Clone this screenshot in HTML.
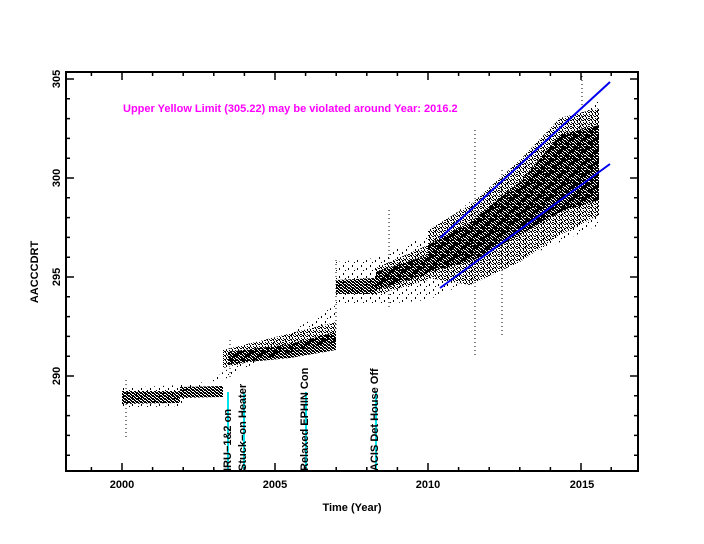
<!DOCTYPE html>
<html><head><meta charset="utf-8"><style>
html,body{margin:0;padding:0;background:#fff;}
svg{display:block;font-family:"Liberation Sans",sans-serif;}
</style></head><body>
<svg width="704" height="544" viewBox="0 0 704 544" xmlns="http://www.w3.org/2000/svg">
<defs>
<pattern id="d" width="4" height="3" patternUnits="userSpaceOnUse">
<rect x="0" y="0" width="3" height="1" fill="#000"/><rect x="2" y="1" width="2" height="1" fill="#000"/><rect x="0" y="2" width="2" height="1" fill="#000"/><rect x="3" y="2" width="1" height="1" fill="#000"/>
</pattern>
<pattern id="m" width="6" height="4" patternUnits="userSpaceOnUse">
<rect x="0" y="0" width="2" height="1" fill="#000"/><rect x="4" y="1" width="1" height="2" fill="#000"/><rect x="2" y="3" width="2" height="1" fill="#000"/><rect x="5" y="3" width="1" height="1" fill="#000"/><rect x="3" y="0" width="1" height="1" fill="#000"/><rect x="1" y="2" width="1" height="1" fill="#000"/>
</pattern>
<pattern id="s" width="9" height="8" patternUnits="userSpaceOnUse">
<rect x="1" y="1" width="1" height="2" fill="#000"/><rect x="6" y="4" width="1" height="2" fill="#000"/><rect x="3" y="6" width="1" height="1" fill="#000"/>
</pattern>
</defs>
<rect width="704" height="544" fill="#fff"/>
<polygon points="122,388 180,385 223,380 336,320 336,262 376,258 428,235 599,100 599,225 428,300 376,305 336,305 223,372 180,406 122,408" fill="url(#s)"/>
<polygon points="428,230 470,205 520,160 560,118 599,108 599,215 560,235 520,262 470,285 428,278" fill="url(#m)"/>
<polygon points="376,268 428,245 428,280 376,295" fill="url(#m)"/>
<polygon points="223,350 336,322 336,342 223,368" fill="url(#m)"/>
<polygon points="122,391 180,391 180,403 122,404" fill="url(#d)"/>
<polygon points="180,387 223,386 223,397 180,398" fill="url(#d)"/>
<polygon points="228,352 290,344 336,332 336,350 290,358 228,364" fill="url(#d)"/>
<polygon points="336,280 376,278 376,294 336,294" fill="url(#d)"/>
<polygon points="376,272 428,255 428,274 376,290" fill="url(#d)"/>
<polygon points="428,245 470,222 520,182 560,135 599,125 599,200 560,212 520,235 470,262 428,272" fill="url(#d)"/>
<g stroke="#000" stroke-width="1" stroke-dasharray="1,3">
<line x1="126" y1="380" x2="126" y2="438"/>
<line x1="230" y1="340" x2="230" y2="380"/>
<line x1="336" y1="260" x2="336" y2="330"/>
<line x1="389" y1="210" x2="389" y2="310"/>
<line x1="475" y1="130" x2="475" y2="355"/>
<line x1="502" y1="170" x2="502" y2="335"/>
<line x1="582" y1="72" x2="582" y2="150"/>
<line x1="595" y1="140" x2="595" y2="215"/>
</g>
<g stroke="#00e5ee" stroke-width="2">
<line x1="228" y1="471" x2="228" y2="392"/>
<line x1="244" y1="471" x2="244" y2="392"/>
<line x1="306" y1="471" x2="306" y2="392"/>
<line x1="376" y1="471" x2="376" y2="392"/>
</g>
<g font-size="11" fill="#000" font-weight="bold">
<text transform="translate(231,471) rotate(-90)">IRU−1&amp;2 on</text>
<text transform="translate(246,471) rotate(-90)">Stuck−on Heater</text>
<text transform="translate(308,471) rotate(-90)">Relaxed EPHIN Con</text>
<text transform="translate(378,471) rotate(-90)">ACIS Det House Off</text>
</g>
<g stroke="#0000ee" stroke-width="2">
<line x1="440" y1="238" x2="610" y2="82"/>
<line x1="440" y1="288" x2="610" y2="164"/>
</g>
<text x="123" y="112" font-size="11" font-weight="bold" fill="#ff00ff">Upper Yellow  Limit (305.22) may be violated around Year: 2016.2</text>
<rect x="66" y="72" width="572" height="399" fill="none" stroke="#000" stroke-width="2"/>
<path stroke="#000" stroke-width="1.5" fill="none" d="
M91.4 471v-4M152.6 471v-4M183.2 471v-4M213.8 471v-4M244.4 471v-4M305.6 471v-4M336.2 471v-4M366.8 471v-4M397.4 471v-4M458.6 471v-4M489.2 471v-4M519.8 471v-4M550.4 471v-4M611.2 471v-4
M122 471v-8M275 471v-8M428 471v-8M581 471v-8
M91.4 72v4M152.6 72v4M183.2 72v4M213.8 72v4M244.4 72v4M305.6 72v4M336.2 72v4M366.8 72v4M397.4 72v4M458.6 72v4M489.2 72v4M519.8 72v4M550.4 72v4M611.2 72v4
M122 72v8M275 72v8M428 72v8M581 72v8
M66 455.2h4M66 435.4h4M66 415.6h4M66 395.8h4M66 356.2h4M66 336.4h4M66 316.6h4M66 296.8h4M66 257.2h4M66 237.4h4M66 217.6h4M66 197.8h4M66 158.2h4M66 138.4h4M66 118.6h4M66 98.8h4
M66 376h8M66 277h8M66 178h8M66 79h8
M638 455.2h-4M638 435.4h-4M638 415.6h-4M638 395.8h-4M638 356.2h-4M638 336.4h-4M638 316.6h-4M638 296.8h-4M638 257.2h-4M638 237.4h-4M638 217.6h-4M638 197.8h-4M638 158.2h-4M638 138.4h-4M638 118.6h-4M638 98.8h-4
M638 376h-8M638 277h-8M638 178h-8M638 79h-8"/>
<g font-size="11" fill="#000" text-anchor="middle" font-weight="bold">
<text x="122" y="488">2000</text><text x="275" y="488">2005</text>
<text x="428" y="488">2010</text><text x="582" y="488">2015</text>
<text x="352" y="511">Time (Year)</text>
<text transform="translate(60,79) rotate(-90)">305</text>
<text transform="translate(60,178) rotate(-90)">300</text>
<text transform="translate(60,277) rotate(-90)">295</text>
<text transform="translate(60,376) rotate(-90)">290</text>
<text transform="translate(38,272) rotate(-90)">AACCCDRT</text>
</g>
</svg>
</body></html>
